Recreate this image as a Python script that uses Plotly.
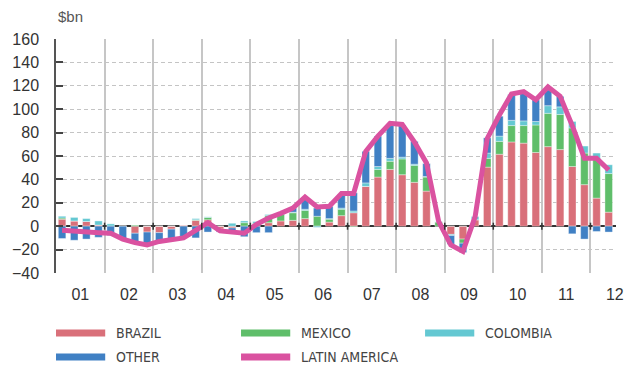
import plotly.graph_objects as go

# Quarterly flows, 2001 Q1 - 2012 Q2 ($bn)
quarters = [f"{y:02d}Q{q}" for y in range(1, 13) for q in range(1, 5)][:46]
year_labels = ["01", "02", "03", "04", "05", "06", "07", "08", "09", "10", "11", "12"]

brazil = [6, 4.5, 4, 1, 0, 0, -6, -5, -5.5, -2.5, 1, 5,
          5.5, -2.5, -1.5, 0, 0, 3, 4.5, 5, 6.5, 0, 3.5, 9,
          11.5, 34, 42, 48.5, 44, 37.5, 30, 0, -7, -11, 5.5, 50.5,
          61.5, 72, 71, 63, 68, 65.5, 51, 35.5, 24, 12]
mexico = [1, 0, 0, 0, 0, 0, 1, 0, 0, 0, 0, 0.5,
          2, 0, 0, 3, 2.5, 6, 5.5, 6.5, 7, 8.5, 2.5, 5.5,
          -0.5, 0, 6.5, 7, 13.5, 14.5, 12, 3.5, 0, -3.5, 0, 7.5,
          11, 14, 15, 23.5, 28.5, 30, 33, 27, 34, 33]
colombia = [1.5, 3, 2.5, 3.5, 2, 0, 0, 0, 0, 0, 0, 1,
            0.5, 0, 2.5, 1.5, 1.5, 1, 0.5, 0.5, 1, -1, 0.5, 1,
            1.5, 3, 2.5, 2.5, 1.5, 1, 0.5, 0.5, -1, 0, 3, 4.5,
            4.5, 4.5, 4, 3, 6.5, 6.5, 5.5, 6, 4.5, 7.5]
other = [-10.5, -12, -11, -9.5, -8, -11, -7.5, -10.5, -7.5, -8, -9, -10,
         -5, -2.5, -4, -9, -5.5, -5.5, 0, 3.5, 9, 7, 10.5, 11.5,
         15.5, 27, 26, 28, 27.5, 19.5, 11, 0, -7.5, -8, 0, 13,
         17, 22, 24, 18.5, 13.5, 9, -6.5, -11, -4.5, -5]
latin_america = [-3.5, -4.5, -5, -5.5, -6, -11, -14, -16, -13, -11, -10, -3.5,
                 3, -4, -5, -6, 1.5, 7, 11, 15.5, 25, 16.5, 17, 28,
                 28, 64, 77, 88, 87, 72, 54, 4, -16, -21.5, 8, 75,
                 95, 113, 115, 108, 119, 111, 86, 58, 58, 48]

x = list(range(len(quarters)))
year_centres = [4 * k + 1.5 for k in range(len(year_labels))]
year_bounds = [4 * k - 0.5 for k in range(1, len(year_labels))]

series = [
    ("BRAZIL", brazil, "#D9707A"),
    ("MEXICO", mexico, "#5FBE6A"),
    ("COLOMBIA", colombia, "#64C8D2"),
    ("OTHER", other, "#4080C4"),
]
line_colour = "#DA52A0"

fig = go.Figure()
for name, vals, col in series:
    fig.add_trace(go.Bar(
        x=x, y=vals, name=name, customdata=quarters,
        marker=dict(color=col, line=dict(color="rgba(255,255,255,0.45)", width=0.8)),
        width=0.62, showlegend=False,
    ))
fig.add_trace(go.Scatter(
    x=x, y=latin_america, name="LATIN AMERICA", mode="lines",
    line=dict(color=line_colour, width=5), showlegend=False,
))

# plot area in pixels (for the hand-built legend below)
W, H = 636, 368
L, R, T, B = 55, 12, 39, 95
PW, PH = W - L - R, H - T - B


def px_x(px):
    return (px - L) / PW


def px_y(py):
    return (H - B - py) / PH


# crossing ticks on the zero line at the start of each year
shapes = []
for b in year_bounds:
    shapes.append(dict(type="line", xref="x", yref="y", ysizemode="pixel", yanchor=0,
                       x0=b, x1=b, y0=-3.5, y1=3.5, line=dict(color="#333", width=1.5)))

# legend: wide colour swatches with labels
legend_items = [
    ("BRAZIL", "#D9707A", 55, 333),
    ("MEXICO", "#5FBE6A", 243, 333),
    ("COLOMBIA", "#64C8D2", 430, 333),
    ("OTHER", "#4080C4", 55, 357),
    ("LATIN AMERICA", line_colour, 243, 357),
]
annotations = []
for label, col, px, py in legend_items:
    shapes.append(dict(type="rect", xref="paper", yref="paper",
                       x0=px_x(px), x1=px_x(px + 50),
                       y0=px_y(py + 3.5), y1=px_y(py - 3.5),
                       line=dict(width=0), fillcolor=col))
    annotations.append(dict(
        xref="paper", yref="paper", x=px_x(px + 59), y=px_y(py),
        text=label, showarrow=False, xanchor="left", yanchor="middle",
        font=dict(family="Liberation Sans Narrow, Arial Narrow, DejaVu Sans Condensed, sans-serif",
                  size=14, color="#444"),
    ))

annotations.append(dict(
    xref="paper", yref="paper", x=px_x(55), y=px_y(17), text="$bn", showarrow=False,
    xanchor="left", yanchor="middle",
    font=dict(family="Liberation Sans, Arial, sans-serif", size=15, color="#555"),
))

fig.update_layout(
    width=W, height=H,
    margin=dict(l=L, r=R, t=T, b=B),
    barmode="relative",
    plot_bgcolor="white", paper_bgcolor="white",
    font=dict(family="Liberation Sans, Arial, sans-serif", size=16, color="#333"),
    shapes=shapes, annotations=annotations,
    showlegend=False,
)
fig.update_xaxes(
    range=[-0.5, 45.6],
    tickmode="array", tickvals=year_centres, ticktext=year_labels,
    ticks="", showgrid=False, showline=False, zeroline=False,
    ticklabelstandoff=10,
    minor=dict(tickmode="array", tickvals=year_bounds, showgrid=True,
               gridcolor="#c6c6c6", gridwidth=1.5, ticks=""),
)
fig.update_yaxes(
    range=[-40, 160], dtick=20, tick0=0,
    showgrid=True, gridcolor="#c4c4c4", gridwidth=1, griddash="4px,3px",
    showline=True, linecolor="#555", linewidth=1.5,
    ticks="inside", ticklen=7, tickcolor="#444", tickwidth=1.5,
    zeroline=True, zerolinecolor="#333", zerolinewidth=1.5,
    ticklabelstandoff=12,
)

fig.write_html("out.html")
